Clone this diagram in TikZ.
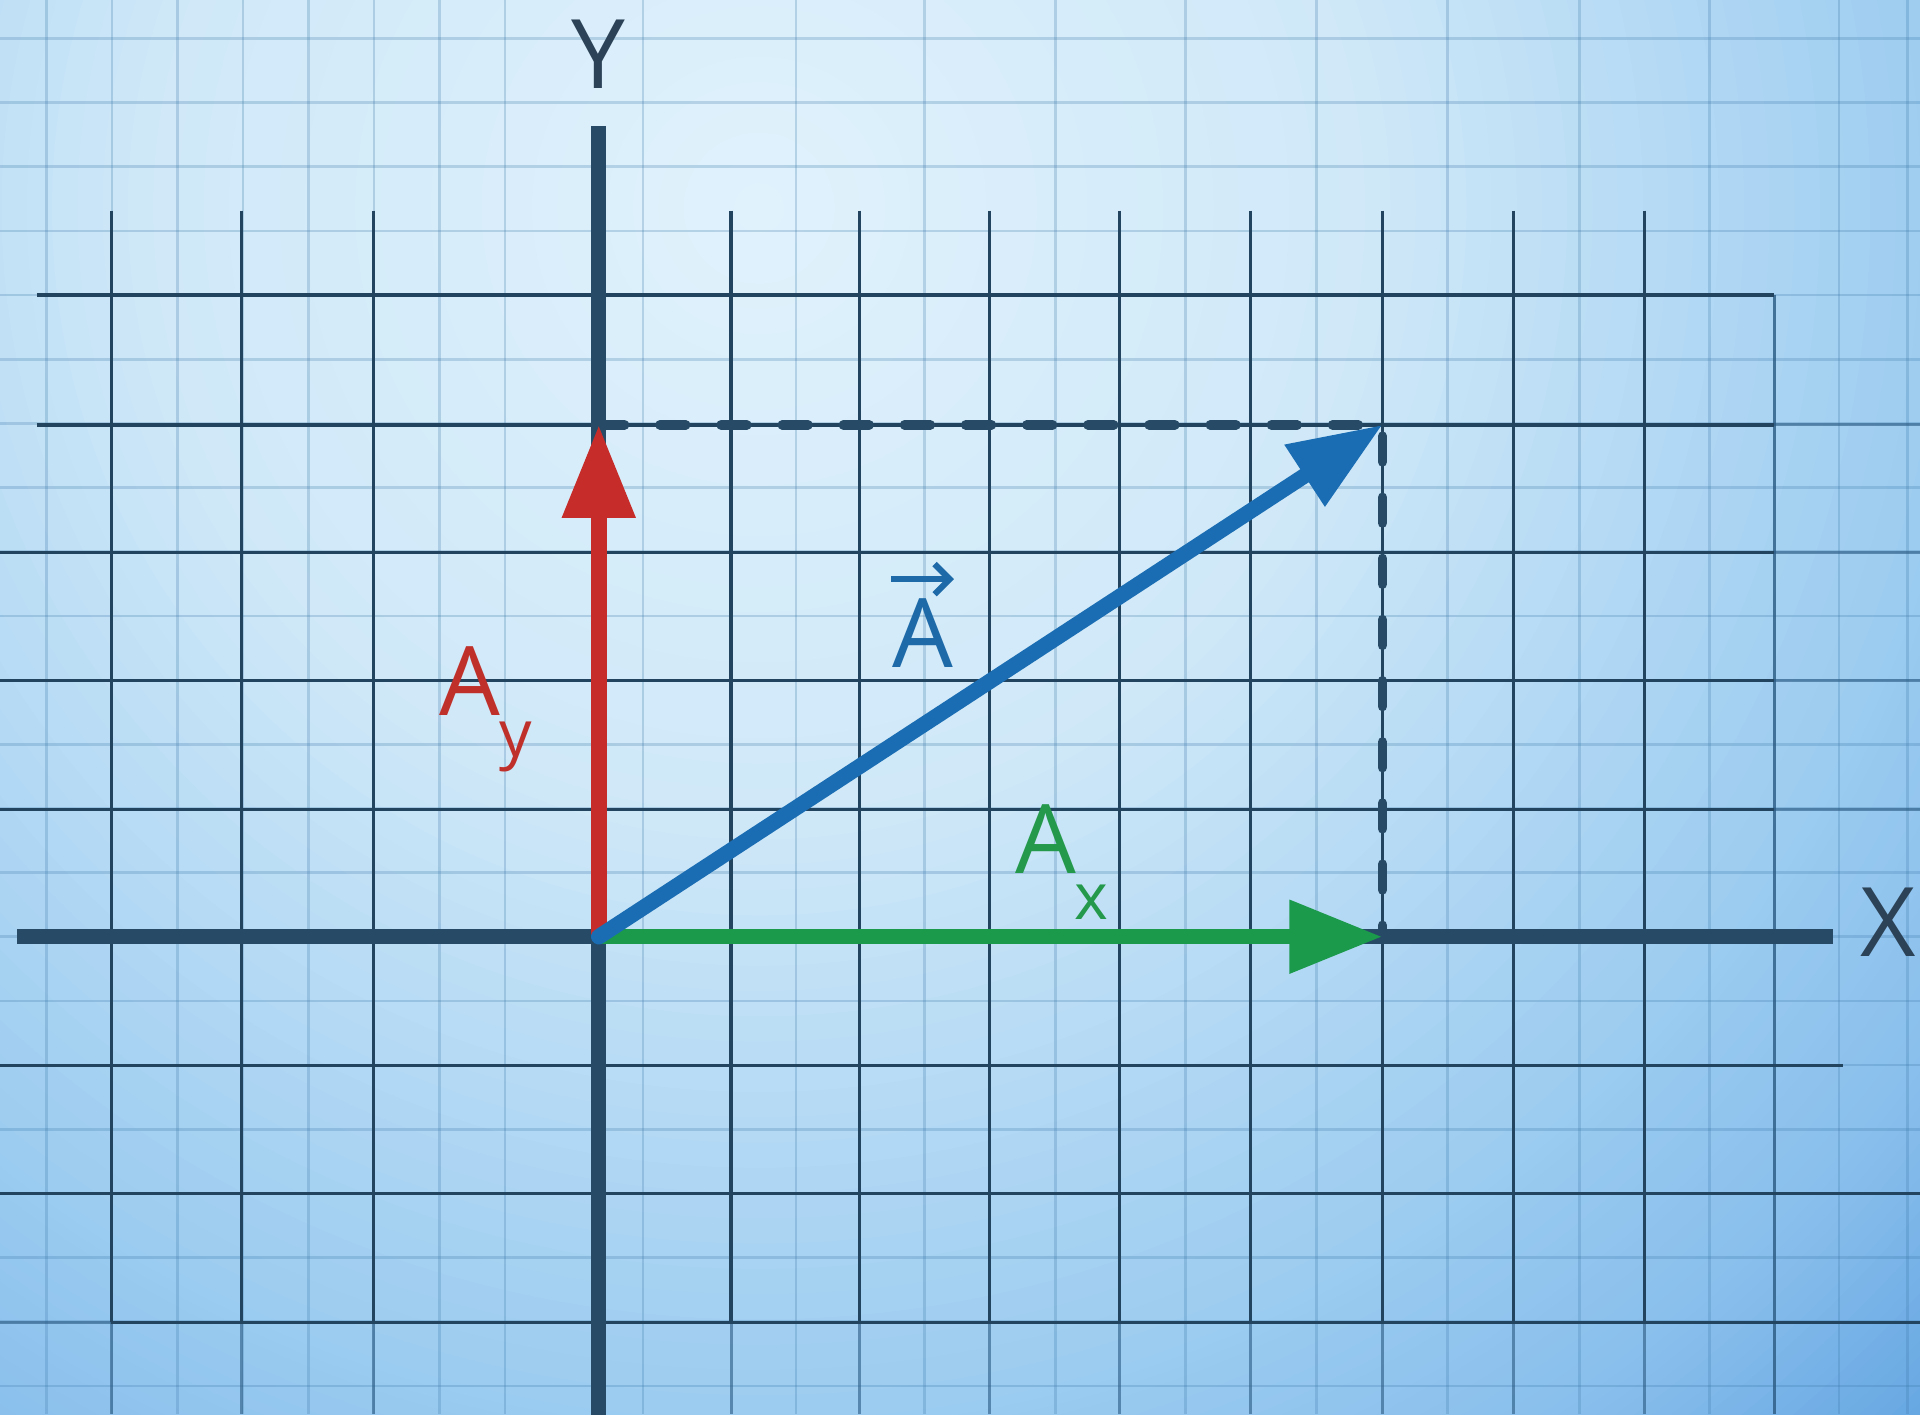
\documentclass[tikz,border=0pt]{standalone}
\usepackage{fontspec}
\setmainfont{Open Sans}
\usetikzlibrary{arrows.meta}
\definecolor{bgA}{HTML}{E0F2FC}
\definecolor{bgB}{HTML}{CFE8F8}
\definecolor{bgC}{HTML}{9ACBF0}
\definecolor{bgD}{HTML}{88BEEC}
\definecolor{bgE}{HTML}{5FA2E0}
\definecolor{bgF}{HTML}{5A9EDE}
\definecolor{axiscol}{HTML}{274A66}
\definecolor{griddark}{HTML}{22445F}
\definecolor{gridlightcol}{HTML}{3A77A8}
\definecolor{gridmidcol}{HTML}{2A5A82}
\definecolor{vred}{HTML}{C62D2A}
\definecolor{vgreen}{HTML}{1B9A4C}
\definecolor{vblue}{HTML}{1A6DB3}
\definecolor{lred}{HTML}{C0302B}
\definecolor{lgreen}{HTML}{24994B}
\definecolor{lblue}{HTML}{1E6AA8}
\definecolor{txtdark}{HTML}{2C4257}
\begin{document}
\begin{tikzpicture}[x=0.01cm,y=-0.01cm,
  lightgrid/.style={draw=gridlightcol, draw opacity=0.25, line width=0.6pt},
  midgrid/.style={draw=gridmidcol, draw opacity=0.6, line width=0.7pt},
  darkgrid/.style={draw=griddark, line width=0.75pt},
  axisline/.style={draw=axiscol, line width=3.5pt},
  vecarrow/.style={line width=3.6pt, -{Triangle[length=21.6pt,width=16.2pt]}},
  dashline/.style={draw=axiscol, line width=2.2pt, dash pattern=on 6pt off 8.2pt, line cap=round},
  biglbl/.style={font=\fontsize{22.3}{26}\selectfont, inner sep=0pt, anchor=base},
  sublbl/.style={font=\fontsize{15}{18}\selectfont, inner sep=0pt, anchor=base}]
\useasboundingbox (0,0) rectangle (1568,1155);
% background
\begin{scope}
  \clip (0,0) rectangle (1568,1155);
  \foreach \ra/\rb/\ca/\cb in {1405/1500/bgE/bgF,1190/1405/bgD/bgE,990/1190/bgC/bgD,495/990/bgB/bgC,0/495/bgA/bgB}{
    \foreach \i in {24,...,1}{
      \pgfmathsetmacro\ringr{(\ra+(\rb-\ra)*\i/24)*0.01}
      \pgfmathtruncatemacro\mixp{100*(\i-0.5)/24}
      \fill[\cb!\mixp!\ca] (620,170) circle ({\ringr*1cm});
    }
  }
\end{scope}
% light grid
\foreach \k in {-14,...,7}
  \draw[lightgrid] (0,{765+52.4*\k}) -- (1568,{765+52.4*\k});
\foreach \xx in {38,91.5,145,198.5,252,305.5,359,412.5,525,650,755,862,968,1075,1182,1290,1396,1502,1558}
  \draw[lightgrid] (\xx,0) -- (\xx,1155);
% medium grid extensions
\foreach \xx in {91,197,305,597,702,808,914,1021,1129,1236,1343}
  \draw[midgrid] (\xx,1080) -- (\xx,1155);
\draw[midgrid, draw opacity=0.8] (1449,241) -- (1449,1155);
\foreach \yy in {347,451,556,661}
  \draw[midgrid] (1449,\yy) -- (1568,\yy);
\draw[midgrid] (0,1080) -- (91,1080);
% dark grid
\foreach \xx in {91,197,305,597,702,808,914,1021,1129,1236,1343}
  \draw[darkgrid] (\xx,172) -- (\xx,1080);
\draw[darkgrid] (30,241) -- (1449,241);
\draw[darkgrid] (30,347) -- (1449,347);
\foreach \yy in {451,556,661}
  \draw[darkgrid] (0,\yy) -- (1449,\yy);
\draw[darkgrid] (0,870) -- (1505,870);
\draw[darkgrid] (0,975) -- (1568,975);
\draw[darkgrid] (91,1080) -- (1568,1080);
% axes
\coordinate (O) at (489,765);
\coordinate (xaxL) at (14,765);
\coordinate (xaxR) at (1497,765);
\coordinate (yaxT) at (489,103);
\coordinate (yaxB) at (489,1160);
\draw[axisline] (xaxL) -- (xaxR);
\draw[axisline] (yaxB) -- (yaxT);
\node[biglbl, text=txtdark] (ylab) at (489,72) {Y};
\node[biglbl, text=txtdark] (xlab) at (1542,781) {X};
% vectors
\coordinate (AyTip) at (489,347);
\coordinate (AxTip) at (1129,765);
\coordinate (P) at (1129,347);
\draw[dashline] (AyTip) -- (P) -- (AxTip);
\draw[vecarrow, draw=vgreen, fill=vgreen] (O) -- (AxTip);
\draw[vecarrow, draw=vred, fill=vred] (O) -- (AyTip);
\draw[vecarrow, draw=vblue, fill=vblue, line cap=round] (O) -- (P);
% labels
\node[biglbl, text=lred] (AyA) at (383.5,584) {A};
\node[sublbl, text=lred] (Ays) at (421,618) {y};
\node[biglbl, text=lgreen] (AxA) at (854.5,713) {A};
\node[sublbl, text=lgreen] (Axs) at (891.5,751) {x};
\node[biglbl, text=lblue] (AvA) at (753.5,545) {A};
\draw[lblue, line width=1.4pt, -{Straight Barb[length=3.5pt,width=7pt]}]
  ([yshift=4.3pt]AvA.north west) -- ([yshift=4.3pt]AvA.north east);
\end{tikzpicture}
\end{document}
